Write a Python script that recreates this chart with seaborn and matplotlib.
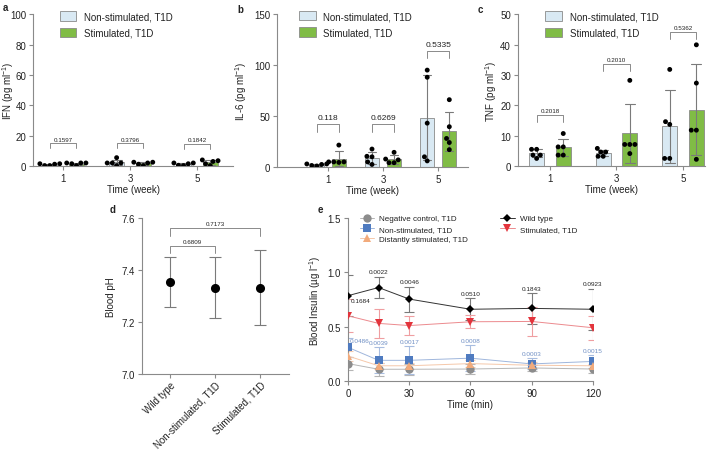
"""Cytokines, blood pH and insulin panels (a-e)."""
import matplotlib
matplotlib.use("Agg")
import matplotlib.pyplot as plt
import numpy as np
import pandas as pd
import seaborn as sns

WEEKS = ["1", "3", "5"]
GROUPS = ["Non-stimulated, T1D", "Stimulated, T1D"]

# per-animal values, one list per week
IFN_NON = [[1.5, 1.5, 1.2, 0.3, 0.3], [5.5, 2.0, 2.0, 2.0, 0.3], [2.0, 2.0, 1.5, 0.5, 0.3]]
IFN_STIM = [[2.0, 2.0, 2.0, 1.5, 0.3], [2.5, 2.5, 2.0, 1.2, 0.3], [4.0, 3.5, 3.0, 1.5, 0.3]]
IL6_NON = [[1.5, 2.5, 3.0, 3.0, 1.0], [17.6, 10.0, 10.5, 5.0, 2.5], [95.0, 88.0, 43.0, 10.0, 6.0]]
IL6_STIM = [[21.5, 5.0, 4.5, 5.0, 5.0], [14.4, 7.8, 7.0, 4.2, 4.2], [66.0, 39.5, 28.0, 24.0, 17.0]]
TNF_NON = [[5.5, 5.5, 3.6, 3.6, 2.5], [5.8, 4.6, 4.6, 3.2, 3.2], [31.8, 13.7, 14.6, 2.5, 2.5]]
TNF_STIM = [[10.7, 6.3, 6.3, 3.6, 3.6], [28.2, 7.1, 7.1, 7.1, 4.1], [39.9, 27.3, 11.8, 11.8, 2.2]]
IFN_P = ["0.1597", "0.3796", "0.1842"]
IL6_P = ["0.118", "0.6269", "0.5335"]
TNF_P = ["0.2018", "0.2010", "0.5362"]

PH_GROUPS = ["Wild type", "Non-stimulated, T1D", "Stimulated, T1D"]
PH_MEAN = [7.353, 7.332, 7.332]
PH_SD = [0.097, 0.117, 0.144]
PH_P = ["0.6809", "0.7173"]

TIMES = [0, 15, 30, 60, 90, 120]
INS_NEG = [0.16, 0.108, 0.108, 0.11, 0.12, 0.11]
INS_NEG_SD = [0.06, 0.06, 0.05, 0.05, 0.03, 0.04]
INS_NON = [0.31, 0.19, 0.19, 0.21, 0.157, 0.18]
INS_NON_SD = [0.09, 0.12, 0.13, 0.12, 0.05, 0.06]
INS_DIST = [0.23, 0.14, 0.14, 0.16, 0.145, 0.14]
INS_DIST_SD = [0.05, 0.03, 0.03, 0.03, 0.03, 0.02]
INS_WT = [0.785, 0.86, 0.754, 0.66, 0.668, 0.66]
INS_WT_SD = [0.19, 0.10, 0.115, 0.10, 0.14, 0.19]
INS_STIM = [0.60, 0.53, 0.51, 0.545, 0.548, 0.49]
INS_STIM_SD = [0.15, 0.13, 0.085, 0.06, 0.13, 0.11]
WT_P = ["0.1684", "0.0022", "0.0046", "0.0510", "0.1843", "0.0923"]
NON_P = ["0.0486", "0.0039", "0.0017", "0.0008", "0.0003", "0.0015"]

BAR_COLORS = {GROUPS[0]: "#d9e9f3", GROUPS[1]: "#80bc45"}
AXIS_GREY = "#8a8a8a"

sns.set_theme(style="ticks")
plt.rcParams["font.family"] = ["Liberation Sans", "DejaVu Sans"]
plt.rcParams.update({
    "font.size": 7, "axes.labelsize": 7, "xtick.labelsize": 7, "ytick.labelsize": 7,
    "mathtext.fontset": "custom", "mathtext.rm": "Liberation Sans",
    "mathtext.it": "Liberation Sans:italic", "mathtext.bf": "Liberation Sans:bold",
    "axes.edgecolor": AXIS_GREY, "axes.linewidth": 0.8,
    "xtick.color": AXIS_GREY, "ytick.color": AXIS_GREY,
    "xtick.labelcolor": "#222222", "ytick.labelcolor": "#222222",
    "xtick.major.size": 3, "ytick.major.size": 3,
    "xtick.major.width": 0.8, "ytick.major.width": 0.8,
    "xtick.major.pad": 2, "ytick.major.pad": 2,
    "axes.labelcolor": "#222222", "text.color": "#222222",
})


def long_frame(non, stim):
    rows = []
    for w, a, b in zip(WEEKS, non, stim):
        rows += [{"week": w, "group": GROUPS[0], "value": v} for v in a]
        rows += [{"week": w, "group": GROUPS[1], "value": v} for v in b]
    return pd.DataFrame(rows)


def bracket(ax, x0, x1, top, leg, text, fs, tpad):
    ax.plot([x0, x0, x1, x1], [top - leg, top, top, top - leg], color=AXIS_GREY, lw=0.7,
            clip_on=False)
    ax.text((x0 + x1) / 2, top + tpad, text, ha="center", va="bottom", fontsize=fs)


def bar_panel(ax, non, stim, pvals, ylabel, ymax, ystep, xlim, gap, tops, leg, pfs, legx, labx):
    df = long_frame(non, stim)
    sns.barplot(data=df, x="week", y="value", hue="group", order=WEEKS, hue_order=GROUPS,
                palette=BAR_COLORS, saturation=1, errorbar="sd", capsize=0.3, gap=gap,
                edgecolor=AXIS_GREY, linewidth=0.6,
                err_kws={"color": "#7a7a7a", "linewidth": 0.8}, ax=ax)
    sns.swarmplot(data=df, x="week", y="value", hue="group", order=WEEKS, hue_order=GROUPS,
                  dodge=True, palette={g: "black" for g in GROUPS}, size=3.5,
                  legend=False, ax=ax)
    for i, (p, t) in enumerate(zip(pvals, tops)):
        bracket(ax, i - 0.2, i + 0.2, t, leg, p, pfs, leg * 0.35)
    ax.set_ylim(0, ymax)
    ax.set_yticks(np.arange(0, ymax + 1, ystep))
    ax.set_xlim(*xlim)
    ax.set_xlabel("Time (week)", labelpad=1)
    ax.set_ylabel(ylabel)
    ax.yaxis.set_label_coords(labx, 0.5)
    h, l = ax.get_legend_handles_labels()
    ax.legend(h, l, loc="upper left", bbox_to_anchor=(legx, 1.045), frameon=False,
              fontsize=7, handlelength=1.7, handleheight=1.1, labelspacing=0.65,
              borderaxespad=0, handletextpad=0.8)
    sns.despine(ax=ax)


fig = plt.figure(figsize=(7.13, 4.52), dpi=100)
ax_a = fig.add_axes([0.0463, 0.6305, 0.2805, 0.336])
ax_b = fig.add_axes([0.3885, 0.6283, 0.2680, 0.3385])
ax_c = fig.add_axes([0.7265, 0.6305, 0.2623, 0.336])
ax_d = fig.add_axes([0.1992, 0.1704, 0.2062, 0.345])
ax_e = fig.add_axes([0.4880, 0.1549, 0.3436, 0.3606])

bar_panel(ax_a, IFN_NON, IFN_STIM, IFN_P, "IFN (pg ml$^{-1}$)", 100, 20, (-0.45, 2.54),
          0.44, [15, 15, 14.5], 3.2, 4.5, 0.115, -0.085)
bar_panel(ax_b, IL6_NON, IL6_STIM, IL6_P, "IL-6 (pg ml$^{-1}$)", 150, 50, (-0.92, 2.54),
          0.35, [42, 42, 114], 7.5, 6, 0.095, -0.147)
bar_panel(ax_c, TNF_NON, TNF_STIM, TNF_P, "TNF (pg ml$^{-1}$)", 50, 10, (-0.48, 2.33),
          0.44, [16.7, 33.6, 44], 2.2, 4.5, 0.125, -0.10)

# d: blood pH
sns.pointplot(x=PH_GROUPS, y=PH_MEAN, order=PH_GROUPS, color="black", linestyle="none",
              markers="o", markersize=4.5, errorbar=None, ax=ax_d, zorder=3)
ax_d.errorbar(range(len(PH_GROUPS)), PH_MEAN, yerr=PH_SD, fmt="none", ecolor="#7a7a7a",
              elinewidth=0.8, capsize=4.5, capthick=0.8, zorder=2)
bracket(ax_d, 0, 1, 7.491, 0.026, PH_P[0], 4.5, 0.008)
bracket(ax_d, 0, 2, 7.560, 0.028, PH_P[1], 4.5, 0.008)
ax_d.set_ylim(7.0, 7.6)
ax_d.set_yticks([7.0, 7.2, 7.4, 7.6])
ax_d.set_xlim(-0.63, 2.65)
ax_d.set_ylabel("Blood pH")
ax_d.yaxis.set_label_coords(-0.177, 0.5)
ax_d.tick_params(axis="x", labelrotation=45, pad=1)
for t in ax_d.get_xticklabels():
    t.set_ha("right")
    t.set_rotation_mode("anchor")
sns.despine(ax=ax_d)

# e: blood insulin
series = [
    ("Negative control, T1D", INS_NEG, INS_NEG_SD, "#8c8c8c", "#b5b5b5", "o", 6, "#b5b5b5"),
    ("Non-stimulated, T1D", INS_NON, INS_NON_SD, "#4f7bc0", "#9fb6dc", "s", 6, "#a8bde0"),
    ("Distantly stimulated, T1D", INS_DIST, INS_DIST_SD, "#f2ab7c", "#f5c8aa", "^", 6, "#f5cdb2"),
    ("Wild type", INS_WT, INS_WT_SD, "black", "#333333", "D", 4, "#7a7a7a"),
    ("Stimulated, T1D", INS_STIM, INS_STIM_SD, "#e3343c", "#ec8a8e", "v", 6, "#ef9ea1"),
]
for name, vals, sd, col, lcol, mk, ms, ecol in series:
    ax_e.errorbar(TIMES, vals, yerr=sd, fmt="none", ecolor=ecol, elinewidth=0.8,
                  capsize=3.5, capthick=0.8, zorder=2)
    sns.lineplot(x=TIMES, y=vals, color=lcol, marker=mk, markersize=ms,
                 markerfacecolor=col, markeredgecolor=col, markeredgewidth=0,
                 linewidth=0.7, label=name, ax=ax_e, zorder=3)

PFS_E = 4.6
for i, (t, p) in enumerate(zip(TIMES, WT_P)):
    if i == 0:
        ax_e.text(t + 1.5, INS_WT[i] - 0.04, p, ha="left", va="center", fontsize=PFS_E)
    else:
        ax_e.text(t, INS_WT[i] + INS_WT_SD[i] + 0.02, p, ha="center", va="bottom", fontsize=PFS_E)
for i, (t, p) in enumerate(zip(TIMES, NON_P)):
    if i == 0:
        ax_e.text(t + 1, INS_NON[i] + 0.065, p, ha="left", va="center", fontsize=PFS_E,
                  color="#6f8fc4")
    else:
        ax_e.text(t, INS_NON[i] + INS_NON_SD[i] + 0.02, p, ha="center", va="bottom",
                  fontsize=PFS_E, color="#6f8fc4")

ax_e.set_xlim(0, 120)
ax_e.set_xticks([0, 30, 60, 90, 120])
ax_e.set_ylim(0, 1.5)
ax_e.set_yticks([0.0, 0.5, 1.0, 1.5])
ax_e.set_yticklabels(["0.0", "0.5", "1.0", "1.5"])
ax_e.set_xlabel("Time (min)", labelpad=1)
ax_e.set_ylabel("Blood Insulin (µg l$^{-1}$)")
ax_e.yaxis.set_label_coords(-0.102, 0.5)
ax_e.legend(loc="upper left", bbox_to_anchor=(0.035, 1.04), ncol=2, frameon=False,
            fontsize=5.8, handlelength=1.8, handletextpad=0.6, labelspacing=0.35,
            columnspacing=4.0, borderaxespad=0)
for spine in ("left", "bottom"):
    ax_e.spines[spine].set_clip_on(False)
sns.despine(ax=ax_e)

for lab, x, y in [("a", 0.004, 0.993), ("b", 0.333, 0.99), ("c", 0.670, 0.99),
                  ("d", 0.154, 0.546), ("e", 0.445, 0.546)]:
    fig.text(x, y, lab, fontsize=7, fontweight="bold", ha="left", va="top")

fig.savefig("out.png", dpi=100)
